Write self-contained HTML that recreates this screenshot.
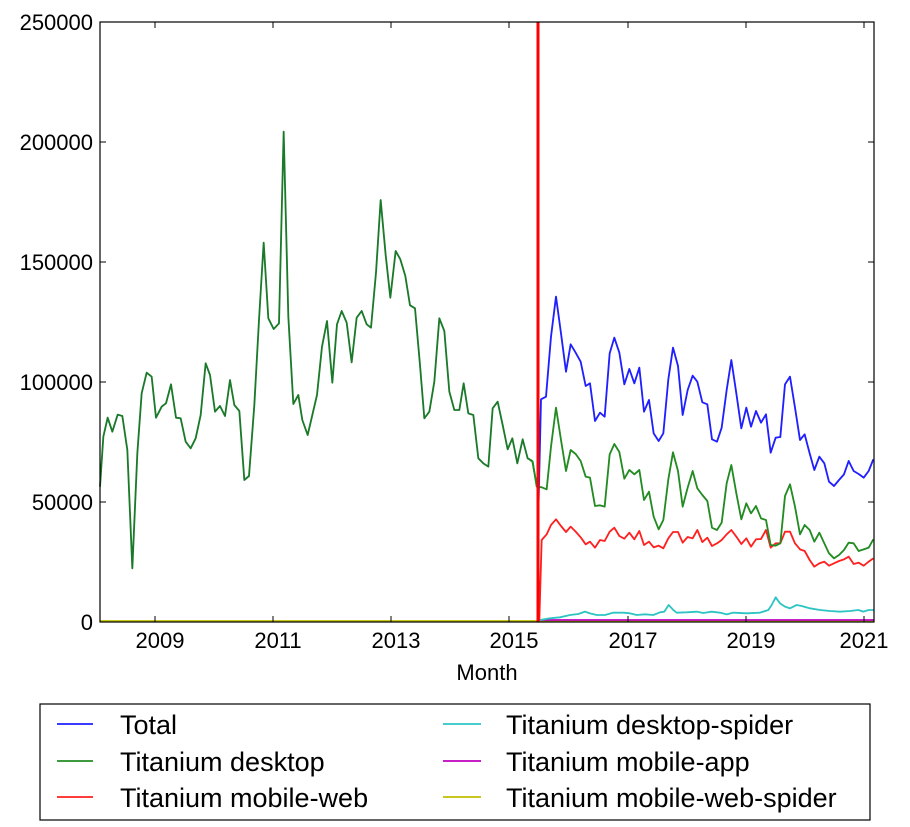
<!DOCTYPE html>
<html><head><meta charset="utf-8"><style>
body{margin:0;background:#fff;}
svg{display:block;font-family:"Liberation Sans","DejaVu Sans",sans-serif;}
</style></head><body>
<svg width="910" height="827" viewBox="0 0 910 827" xmlns="http://www.w3.org/2000/svg">
<rect width="910" height="827" fill="#fff"/>
<line x1="100" y1="621" x2="874" y2="621" stroke="#bfbf00" stroke-width="1.8"/>
<line x1="538" y1="620" x2="874" y2="620" stroke="#bf00bf" stroke-width="1.8"/>
<g transform="translate(95,120) scale(0.33333)">
<polyline fill="none" stroke="#1a7a2a" stroke-width="5.5" stroke-linejoin="round" points="15,1100 25,950 38,893 52,935 68,884 82,888 97,990 112,1345 127,1000 140,820 155,758 170,770 183,893 200,860 213,850 228,793 243,893 257,895 272,965 287,985 302,955 317,885 332,730 345,765 360,875 375,858 390,888 405,780 418,855 433,873 448,1080 462,1068 478,855 492,600 506,368 520,595 536,627 552,610 566,35 580,590 595,852 610,825 622,900 638,945 652,885 666,825 681,680 696,603 712,788 726,613 740,573 755,608 770,727 785,593 800,573 815,613 828,623 843,458 857,240 872,405 886,533 902,393 916,418 931,468 945,556 960,565 975,735 988,895 1003,875 1018,785 1033,595 1048,633 1063,815 1078,870 1093,870 1106,790 1120,880 1135,885 1150,1015 1165,1030 1180,1040 1193,865 1208,845 1223,915 1238,988 1252,955 1267,1030 1283,958 1298,1015 1312,1023 1325,1095"/>
</g>
<g transform="translate(530,280) scale(0.33333)" fill="none" stroke-width="5.5" stroke-linejoin="round">
<polyline stroke="#2ec4c4" points="30,1020 60,1015 90,1012 120,1005 145,1002 165,995 180,1000 200,1005 225,1005 250,998 280,998 300,1000 320,1005 345,1003 370,1005 390,997 403,995 416,975 430,990 440,998 470,997 500,995 520,999 545,995 570,998 590,1003 610,998 650,1000 690,998 715,990 725,975 737,952 750,970 765,980 780,985 800,975 815,978 840,985 870,990 900,993 930,995 960,993 985,990 1000,995 1016,990 1032,990"/>
<polyline stroke="#ff2020" points="28,1020 35,780 50,763 63,735 78,718 93,738 108,756 122,740 137,755 152,772 167,793 180,785 195,803 210,780 224,783 239,755 253,743 268,768 283,776 298,758 313,778 328,753 342,795 357,785 371,802 386,797 400,805 415,775 429,756 444,756 458,788 473,771 488,775 502,750 517,786 532,773 546,798 561,790 575,780 590,763 604,750 619,770 634,792 649,775 663,800 678,778 693,777 708,750 722,803 737,790 751,790 765,755 780,755 795,790 810,808 824,813 839,840 853,860 868,850 883,845 897,857 912,850 927,843 942,838 956,830 971,852 986,848 1001,857 1016,845 1030,835"/>
<polyline stroke="#228b22" points="0,540 8,545 20,620 35,622 50,628 63,500 78,383 93,480 108,573 122,510 137,522 152,543 167,590 180,593 195,678 210,676 224,680 239,523 253,492 268,516 283,596 298,570 313,583 328,570 342,660 357,635 371,710 386,748 400,720 415,598 429,517 444,573 458,680 473,623 488,573 502,625 517,645 532,663 546,743 561,750 575,728 590,610 604,555 619,640 634,718 649,670 663,700 678,678 693,715 708,720 722,795 737,797 751,790 765,648 780,613 795,680 810,763 824,735 839,750 853,785 868,758 883,790 897,820 912,835 927,825 942,810 956,788 971,790 986,813 1001,808 1016,803 1030,778"/>
<polyline stroke="#1f1fff" points="25,700 33,358 48,350 63,170 78,50 93,160 108,275 122,193 137,218 152,245 167,318 180,310 195,423 210,398 224,410 239,220 253,173 268,218 283,313 298,267 313,310 328,263 342,395 357,360 371,460 386,483 400,460 415,298 429,203 444,258 458,405 473,330 488,287 502,305 517,367 532,373 546,478 561,485 575,443 590,330 604,240 619,340 634,445 649,383 663,440 678,393 693,428 708,403 722,518 737,473 751,471 765,313 780,290 795,383 810,480 824,463 839,520 853,570 868,530 883,550 897,605 912,618 927,600 942,583 956,543 971,573 986,582 1001,593 1016,573 1030,538"/>
</g>
<line x1="538" y1="22" x2="538" y2="622" stroke="#ff0000" stroke-width="3"/>
<rect x="100" y="22" width="774" height="600" fill="none" stroke="#000" stroke-width="1.2"/>
<g stroke="#000" stroke-width="1">
<line x1="100" y1="142" x2="106" y2="142"/><line x1="874" y1="142" x2="868" y2="142"/>
<line x1="100" y1="262" x2="106" y2="262"/><line x1="874" y1="262" x2="868" y2="262"/>
<line x1="100" y1="382" x2="106" y2="382"/><line x1="874" y1="382" x2="868" y2="382"/>
<line x1="100" y1="502" x2="106" y2="502"/><line x1="874" y1="502" x2="868" y2="502"/>
<line x1="155" y1="622" x2="155" y2="616"/><line x1="273" y1="622" x2="273" y2="616"/><line x1="391" y1="622" x2="391" y2="616"/><line x1="509" y1="622" x2="509" y2="616"/><line x1="628" y1="622" x2="628" y2="616"/><line x1="746" y1="622" x2="746" y2="616"/><line x1="864" y1="622" x2="864" y2="616"/>
<line x1="155" y1="22" x2="155" y2="28"/><line x1="273" y1="22" x2="273" y2="28"/><line x1="391" y1="22" x2="391" y2="28"/><line x1="509" y1="22" x2="509" y2="28"/><line x1="628" y1="22" x2="628" y2="28"/><line x1="746" y1="22" x2="746" y2="28"/><line x1="864" y1="22" x2="864" y2="28"/>
</g>
<g font-size="22" text-anchor="end" fill="#000">
<text x="93" y="30">250000</text><text x="93" y="150">200000</text><text x="93" y="270">150000</text><text x="93" y="390">100000</text><text x="93" y="510">50000</text><text x="93" y="630">0</text>
</g>
<g font-size="22" text-anchor="middle" fill="#000">
<text x="160" y="648">2009</text><text x="278" y="648">2011</text><text x="396" y="648">2013</text><text x="514" y="648">2015</text><text x="633" y="648">2017</text><text x="751" y="648">2019</text><text x="864" y="648">2021</text>
<text x="487" y="680">Month</text>
</g>
<rect x="40" y="704" width="830" height="116" fill="#fff" stroke="#000" stroke-width="1.2"/>
<g stroke-width="1.8">
<line x1="57" y1="724" x2="93" y2="724" stroke="#1f1fff"/>
<line x1="57" y1="761" x2="93" y2="761" stroke="#228b22"/>
<line x1="57" y1="797" x2="93" y2="797" stroke="#ff2020"/>
<line x1="443" y1="724" x2="481" y2="724" stroke="#2ec4c4"/>
<line x1="443" y1="761" x2="481" y2="761" stroke="#bf00bf"/>
<line x1="443" y1="797" x2="481" y2="797" stroke="#bfbf00"/>
</g>
<g font-size="27" fill="#000">
<text x="120" y="734">Total</text>
<text x="120" y="771">Titanium desktop</text>
<text x="120" y="807">Titanium mobile-web</text>
<text x="506" y="734">Titanium desktop-spider</text>
<text x="506" y="771">Titanium mobile-app</text>
<text x="506" y="807">Titanium mobile-web-spider</text>
</g>
</svg>
</body></html>
